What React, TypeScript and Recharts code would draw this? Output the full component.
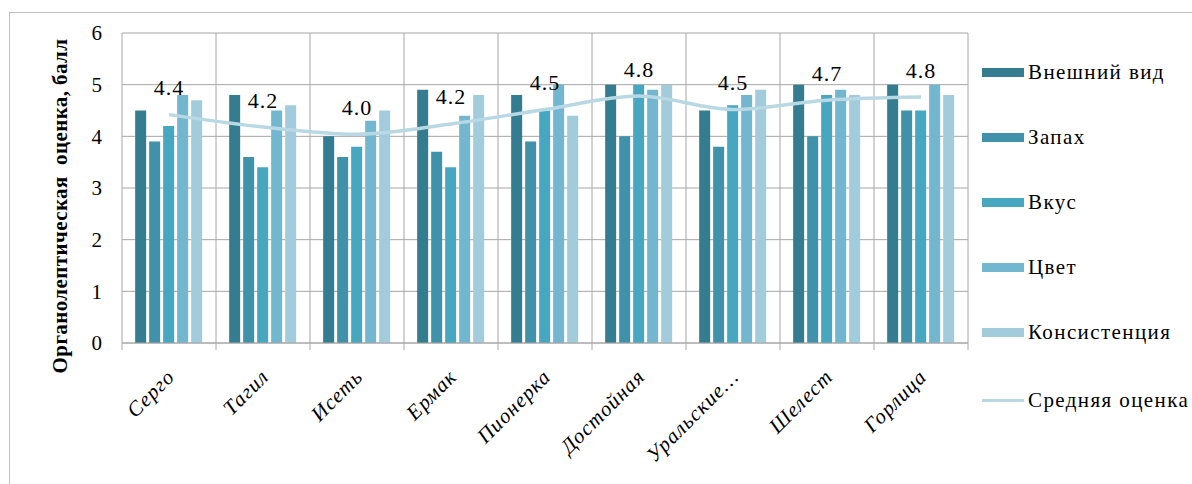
import React from "react";
import {
  ComposedChart, Bar, Line, XAxis, YAxis, CartesianGrid, Legend, LabelList,
} from "recharts";

const categories = ["Серго", "Тагил", "Исеть", "Ермак", "Пионерка", "Достойная", "Уральские…", "Шелест", "Горлица"];
const appearance = [4.5, 4.8, 4.0, 4.9, 4.8, 5.0, 4.5, 5.0, 5.0];
const smell = [3.9, 3.6, 3.6, 3.7, 3.9, 4.0, 3.8, 4.0, 4.5];
const taste = [4.2, 3.4, 3.8, 3.4, 4.5, 5.0, 4.6, 4.8, 4.5];
const colour = [4.8, 4.5, 4.3, 4.4, 5.0, 4.9, 4.8, 4.9, 5.0];
const texture = [4.7, 4.6, 4.5, 4.8, 4.4, 5.0, 4.9, 4.8, 4.8];
const average = [4.42, 4.18, 4.04, 4.24, 4.52, 4.78, 4.52, 4.7, 4.76];
const yTicks = [0, 1, 2, 3, 4, 5, 6];

const series = [
  { key: "appearance", name: "Внешний вид", color: "#347c8f" },
  { key: "smell", name: "Запах", color: "#3f92a9" },
  { key: "taste", name: "Вкус", color: "#47a6c0" },
  { key: "colour", name: "Цвет", color: "#72b7cf" },
  { key: "texture", name: "Консистенция", color: "#a2cbdb" },
];
const lineColor = "#b8d8e4";
const gridColor = "#a6a6a6";
const font = "Liberation Serif";

const data = categories.map((name, i) => ({
  name,
  appearance: appearance[i],
  smell: smell[i],
  taste: taste[i],
  colour: colour[i],
  texture: texture[i],
  average: average[i],
}));

// category labels are slanted 45°, tick marks sit between categories
function XTick(props: any) {
  const { x, y, payload, index } = props;
  const half = payload.offset || 0;
  const ax = x + 7;
  const ay = y + 35;
  return (
    <g>
      <line x1={x - half} y1={y} x2={x - half} y2={y + 7} stroke={gridColor} />
      {index === categories.length - 1 && (
        <line x1={x + half} y1={y} x2={x + half} y2={y + 7} stroke={gridColor} />
      )}
      <text
        x={ax}
        y={ay}
        textAnchor="end"
        transform={`rotate(-45, ${ax}, ${ay})`}
        style={{ fontFamily: font, letterSpacing: 1 }}
        fontStyle="italic"
        fontSize={21}
        fill="#000"
      >
        {payload.value}
      </text>
    </g>
  );
}

function AvgLabel(props: any) {
  const { x, y, value } = props;
  return (
    <text
      x={x}
      y={y - 27}
      textAnchor="middle"
      dominantBaseline="central"
      style={{ fontFamily: font, letterSpacing: 1 }}
      fontSize={22}
      fill="#000"
    >
      {Number(value).toFixed(1)}
    </text>
  );
}

function LegendBox() {
  const items = [
    ...series.map((s) => ({ name: s.name, color: s.color, line: false })),
    { name: "Средняя оценка", color: lineColor, line: true },
  ];
  return (
    <div style={{ position: "relative", fontFamily: font, fontSize: 21, letterSpacing: 1.4, color: "#000", textAlign: "left" }}>
      {items.map((it, i) => (
        <div
          key={it.name}
          style={{ position: "absolute", left: 0, top: i * 65 + (i === 5 ? 3 : 0), display: "flex", alignItems: "center", whiteSpace: "nowrap" }}
        >
          <span style={{ display: "inline-block", width: 42, height: it.line ? 3 : 9, background: it.color, marginRight: 4 }} />
          <span>{it.name}</span>
        </div>
      ))}
    </div>
  );
}

export default function App() {
  return (
    <div style={{ position: "absolute", left: 0, top: 0, width: 1192, height: 484, background: "#fff", overflow: "hidden" }}>
      <div style={{ position: "absolute", left: 9, top: 12, width: 1300, height: 600, border: "1px solid #c0c0c0" }} />
      <ComposedChart
        width={1192}
        height={484}
        data={data}
        margin={{ top: 33, right: 224, bottom: 81, left: 42 }}
        barCategoryGap="14%"
        barGap={3}
        style={{ position: "absolute", left: 0, top: 0 }}
      >
        <CartesianGrid
          stroke={gridColor}
          verticalCoordinatesGenerator={({ offset }: any) =>
            Array.from({ length: categories.length + 1 }, (_, i) => offset.left + (i * offset.width) / categories.length)
          }
        />
        <XAxis
          dataKey="name"
          height={60}
          axisLine={{ stroke: gridColor }}
          tickLine={false}
          tickSize={0}
          tickMargin={0}
          interval={0}
          tick={<XTick />}
        />
        <YAxis
          width={80}
          domain={[0, 6]}
          ticks={yTicks}
          axisLine={false}
          tickLine={false}
          tickSize={0}
          tickMargin={20}
          tick={{ style: { fontFamily: font }, fontSize: 21, fill: "#000" }}
          label={{
            content: () => (
              <text
                x={60}
                y={206}
                textAnchor="middle"
                dominantBaseline="central"
                transform="rotate(-90, 60, 206)"
                fontWeight="bold"
                fontSize={21}
                fill="#000"
                style={{ fontFamily: font, whiteSpace: "pre", letterSpacing: 0.4 }}
              >
                {"Органолептическая  оценка, балл"}
              </text>
            ),
          }}
        />
        {series.map((s) => (
          <Bar key={s.key} dataKey={s.key} name={s.name} fill={s.color} isAnimationActive={false} />
        ))}
        <Line
          type="monotone"
          dataKey="average"
          name="Средняя оценка"
          stroke={lineColor}
          strokeWidth={3.5}
          dot={false}
          isAnimationActive={false}
        >
          <LabelList dataKey="average" content={<AvgLabel />} />
        </Line>
        <Legend
          layout="horizontal"
          align="center"
          verticalAlign="middle"
          content={<LegendBox />}
          wrapperStyle={{ position: "absolute", left: 982, top: 60, width: 210, height: 360 }}
        />
      </ComposedChart>
    </div>
  );
}
